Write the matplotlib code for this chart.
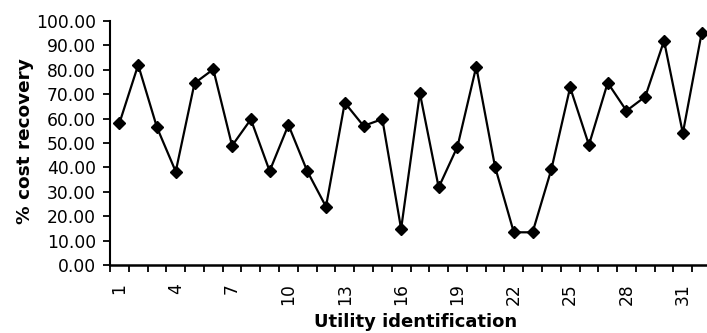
import matplotlib
matplotlib.use("Agg")
import matplotlib.pyplot as plt
from matplotlib.ticker import FixedLocator, FuncFormatter

# Cost recovery per utility
utility_ids = list(range(1, 33))
cost_recovery = [58.1, 82.0, 56.4, 38.3, 74.5, 80.2, 48.9, 59.7, 38.5, 57.4,
                 38.5, 23.9, 66.5, 57.0, 59.8, 14.8, 70.4, 31.8, 48.5, 81.3,
                 40.3, 13.4, 13.4, 39.2, 72.8, 49.2, 74.7, 63.2, 69.0, 91.9,
                 54.0, 95.0]
labelled_ids = list(range(1, 33, 3))
y_ticks = list(range(0, 101, 10))

plt.rcParams['font.family'] = ['DejaVu Sans']

fig = plt.figure(figsize=(7.07, 3.33), dpi=100)
W, H = 707, 333
left, right, top, bottom = 110, 711, 21, 265
ax = fig.add_axes([left / W, 1 - bottom / H, (right - left) / W, (bottom - top) / H])

ax.plot(utility_ids, cost_recovery, color='black', linewidth=1.6,
        marker='D', markersize=6.2, markerfacecolor='black',
        markeredgecolor='black', clip_on=False, zorder=3)

ax.set_xlim(0.5, len(utility_ids) + 0.5)
ax.set_ylim(0, 100)

# category boundaries carry the tick marks, every third category gets a label
ax.xaxis.set_major_locator(FixedLocator([i + 0.5 for i in range(0, len(utility_ids) + 1)]))
ax.xaxis.set_major_formatter(FuncFormatter(lambda v, p: ''))
ax.xaxis.set_minor_locator(FixedLocator(labelled_ids))
ax.xaxis.set_minor_formatter(FuncFormatter(lambda v, p: f"{int(round(v))}"))
ax.tick_params(axis='x', which='major', direction='out', length=5, width=1.3)
ax.tick_params(axis='x', which='minor', length=0, pad=13, labelsize=12.3,
               labelrotation=90)

ax.set_yticks(y_ticks)
ax.yaxis.set_major_formatter(FuncFormatter(lambda v, p: f"{v:.2f}"))
ax.tick_params(axis='y', direction='out', length=5, width=1.3, pad=5,
               labelsize=12.3)

for side in ('top', 'right'):
    ax.spines[side].set_visible(False)
ax.spines['left'].set_linewidth(1.5)
ax.spines['bottom'].set_linewidth(1.8)

ax.set_xlabel('Utility identification', fontsize=13.0, fontweight='bold')
ax.set_ylabel('% cost recovery', fontsize=13.3, fontweight='bold')
# label centres given in pixel positions, converted to axes fractions
ax.xaxis.set_label_coords((416 - left) / (right - left), -(322 - bottom) / (bottom - top))
ax.yaxis.set_label_coords(-(left - 25) / (right - left), (bottom - 141) / (bottom - top))
ax.xaxis.label.set_va('center')
ax.yaxis.label.set_va('center')

fig.savefig('out.png', dpi=100)
